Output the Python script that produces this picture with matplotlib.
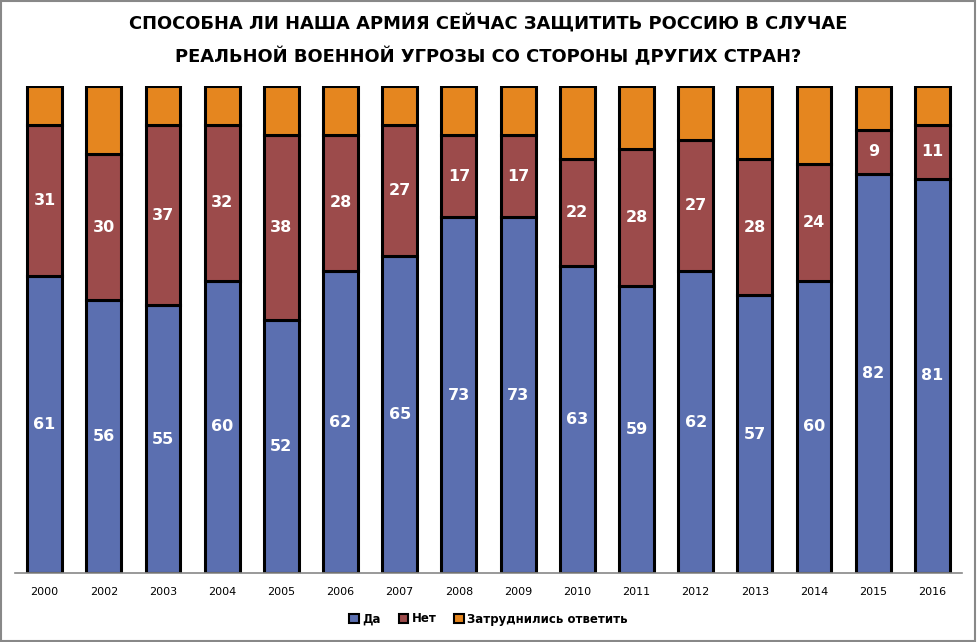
import matplotlib.pyplot as plt
from matplotlib.patches import Rectangle
import numpy as np

years = ["2000", "2002", "2003", "2004", "2005", "2006", "2007", "2008",
         "2009", "2010", "2011", "2012", "2013", "2014", "2015", "2016"]
da = [61, 56, 55, 60, 52, 62, 65, 73, 73, 63, 59, 62, 57, 60, 82, 81]
net = [31, 30, 37, 32, 38, 28, 27, 17, 17, 22, 28, 27, 28, 24, 9, 11]
hard = [8, 14, 8, 8, 10, 10, 8, 10, 10, 15, 13, 11, 15, 16, 9, 8]

series_names = ["Да", "Нет", "Затруднились ответить"]
colors = ["#5b6fb0", "#9c4b4b", "#e5861f"]

title = ("СПОСОБНА ЛИ НАША АРМИЯ СЕЙЧАС ЗАЩИТИТЬ РОССИЮ В СЛУЧАЕ\n"
         "РЕАЛЬНОЙ ВОЕННОЙ УГРОЗЫ СО СТОРОНЫ ДРУГИХ СТРАН?")

fig = plt.figure(figsize=(9.77, 6.42), dpi=100)
ax = fig.add_axes([15/977, 1 - 573/642, 947/977, (573 - 86)/642])

x = np.arange(len(years))
w = 0.59
bottom = np.zeros(len(years))
for vals, c, name in zip([da, net, hard], colors, series_names):
    ax.bar(x, vals, w, bottom=bottom, color=c, edgecolor="black",
           linewidth=2.2, label=name, zorder=2)
    if name != series_names[2]:
        for xi, b, v in zip(x, bottom, vals):
            ax.text(xi, b + v / 2, str(v), ha="center", va="center",
                    color="white", fontsize=11.5, fontweight="bold")
    bottom += np.array(vals)

ax.set_xlim(-0.5, len(years) - 0.5)
ax.set_ylim(0, 100)
ax.set_xticks(x)
ax.set_xticklabels(years, fontsize=8)
ax.tick_params(axis="x", length=0, pad=10)
ax.set_yticks([])
for s in ["top", "left", "right"]:
    ax.spines[s].set_visible(False)
ax.spines["bottom"].set_color("#888888")
ax.spines["bottom"].set_linewidth(1.2)

# bold title, shrunk to the width of the original narrow one
t = fig.text(0.5, 1 - 40/642, title, ha="center", va="center", fontsize=17,
             fontweight="bold", linespacing=1.9)
fig.canvas.draw()
bb = t.get_window_extent()
if bb.width > 730:
    t.set_fontsize(17 * 720 / bb.width)

leg = fig.legend(loc="center", bbox_to_anchor=(0.5, 1 - 619/642), ncol=3,
                 frameon=False, prop={"weight": "bold", "size": 8.5},
                 handlelength=0.8, handleheight=0.8, handletextpad=0.3,
                 columnspacing=1.5)
for h in leg.legend_handles:
    h.set_linewidth(1.5)

fig.patches.append(Rectangle((0.001, 0.001), 0.997, 0.997, transform=fig.transFigure,
                             fill=False, edgecolor="#888888", linewidth=1.5))

fig.savefig("out.png", dpi=100)
